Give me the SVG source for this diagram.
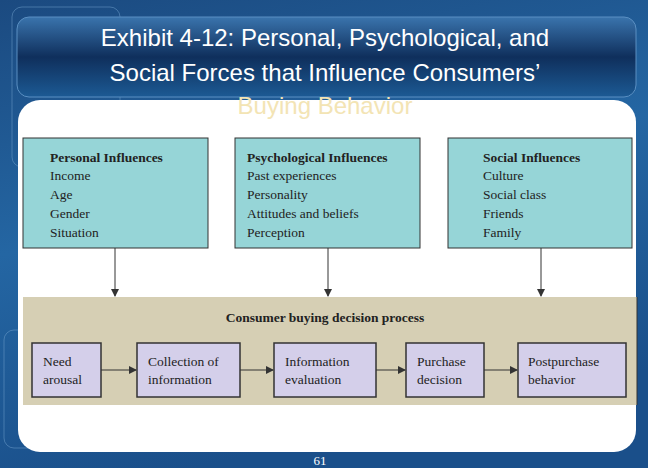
<svg xmlns="http://www.w3.org/2000/svg" width="648" height="468" viewBox="0 0 648 468">
<defs>
<linearGradient id="bg" x1="0" y1="0" x2="0.3" y2="1"><stop offset="0" stop-color="#1b4a80"/><stop offset="0.5" stop-color="#2466a3"/><stop offset="1" stop-color="#1a4f8a"/></linearGradient>
<linearGradient id="tb" x1="0" y1="0" x2="0" y2="1"><stop offset="0" stop-color="#3a74ad"/><stop offset="0.5" stop-color="#0f2f5c"/><stop offset="1" stop-color="#1c5a94"/></linearGradient>
<marker id="ah" markerWidth="8" markerHeight="8" refX="7" refY="4" orient="auto" markerUnits="userSpaceOnUse"><path d="M0,0 L8,4 L0,8 z" fill="#333"/></marker>
</defs>
<style>
.t{font-family:"Liberation Sans",Arial,sans-serif;font-size:24px;fill:#fff;text-anchor:middle}
.s{font-family:"Liberation Serif","Times New Roman",serif;font-size:13.5px;fill:#222}
.b{font-weight:bold}
.inf{fill:#96d5d7;stroke:#333;stroke-width:1}
.pr{fill:#d4cfea;stroke:#333;stroke-width:1.5}
.ln{stroke:#333;stroke-width:1;fill:none}
</style>
<rect width="648" height="468" fill="url(#bg)"/>
<rect x="12" y="7" width="108" height="160" rx="10" fill="none" stroke="#6fa0cc" stroke-opacity="0.5"/>
<rect x="4" y="330" width="112" height="118" rx="10" fill="none" stroke="#6fa0cc" stroke-opacity="0.5"/>
<rect x="18" y="100" width="618" height="352" rx="22" fill="#fff"/>
<rect x="17" y="17" width="619" height="80" rx="12" fill="url(#tb)" stroke="#5a8fc2"/>
<text class="t" x="325" y="46">Exhibit 4-12: Personal, Psychological, and</text>
<text class="t" x="325" y="81">Social Forces that Influence Consumers’</text>
<text class="t" x="325" y="114" style="fill:#f3e4b4">Buying Behavior</text>
<g id="personal"><rect class="inf" x="23" y="138" width="185" height="110"/>
<text class="s b" x="50" y="162">Personal Influences</text>
<text class="s" x="50" y="180">Income</text><text class="s" x="50" y="199">Age</text><text class="s" x="50" y="218">Gender</text><text class="s" x="50" y="237">Situation</text></g>
<g id="psychological"><rect class="inf" x="235" y="138" width="185" height="110"/>
<text class="s b" x="247" y="162">Psychological Influences</text>
<text class="s" x="247" y="180">Past experiences</text><text class="s" x="247" y="199">Personality</text><text class="s" x="247" y="218">Attitudes and beliefs</text><text class="s" x="247" y="237">Perception</text></g>
<g id="social"><rect class="inf" x="448" y="138" width="184" height="110"/>
<text class="s b" x="483" y="162">Social Influences</text>
<text class="s" x="483" y="180">Culture</text><text class="s" x="483" y="199">Social class</text><text class="s" x="483" y="218">Friends</text><text class="s" x="483" y="237">Family</text></g>
<g id="process"><rect x="23" y="297" width="614" height="108" fill="#d6cfb4"/>
<line x1="637" y1="297" x2="637" y2="405" stroke="#333"/>
<text class="s b" x="325" y="322" text-anchor="middle">Consumer buying decision process</text></g>
<g id="need"><rect class="pr" x="32" y="343" width="69" height="54"/><text class="s" x="43" y="366">Need</text><text class="s" x="43" y="384">arousal</text></g>
<g id="collection"><rect class="pr" x="137" y="343" width="103" height="54"/><text class="s" x="148" y="366">Collection of</text><text class="s" x="148" y="384">information</text></g>
<g id="evaluation"><rect class="pr" x="274" y="343" width="102" height="54"/><text class="s" x="285" y="366">Information</text><text class="s" x="285" y="384">evaluation</text></g>
<g id="purchase"><rect class="pr" x="406" y="343" width="78" height="54"/><text class="s" x="417" y="366">Purchase</text><text class="s" x="417" y="384">decision</text></g>
<g id="post"><rect class="pr" x="518" y="343" width="108" height="54"/><text class="s" x="528" y="366">Postpurchase</text><text class="s" x="528" y="384">behavior</text></g>
<g id="connectors">
<line class="ln" x1="115" y1="248" x2="115" y2="296" marker-end="url(#ah)"/>
<line class="ln" x1="328" y1="248" x2="328" y2="296" marker-end="url(#ah)"/>
<line class="ln" x1="541" y1="248" x2="541" y2="296" marker-end="url(#ah)"/>
<line class="ln" x1="101" y1="370" x2="136" y2="370" marker-end="url(#ah)"/>
<line class="ln" x1="240" y1="370" x2="273" y2="370" marker-end="url(#ah)"/>
<line class="ln" x1="376" y1="370" x2="405" y2="370" marker-end="url(#ah)"/>
<line class="ln" x1="484" y1="370" x2="517" y2="370" marker-end="url(#ah)"/>
</g>
<text x="320" y="465" font-family="Liberation Serif,serif" font-size="13" fill="#fff" text-anchor="middle">61</text>
</svg>
